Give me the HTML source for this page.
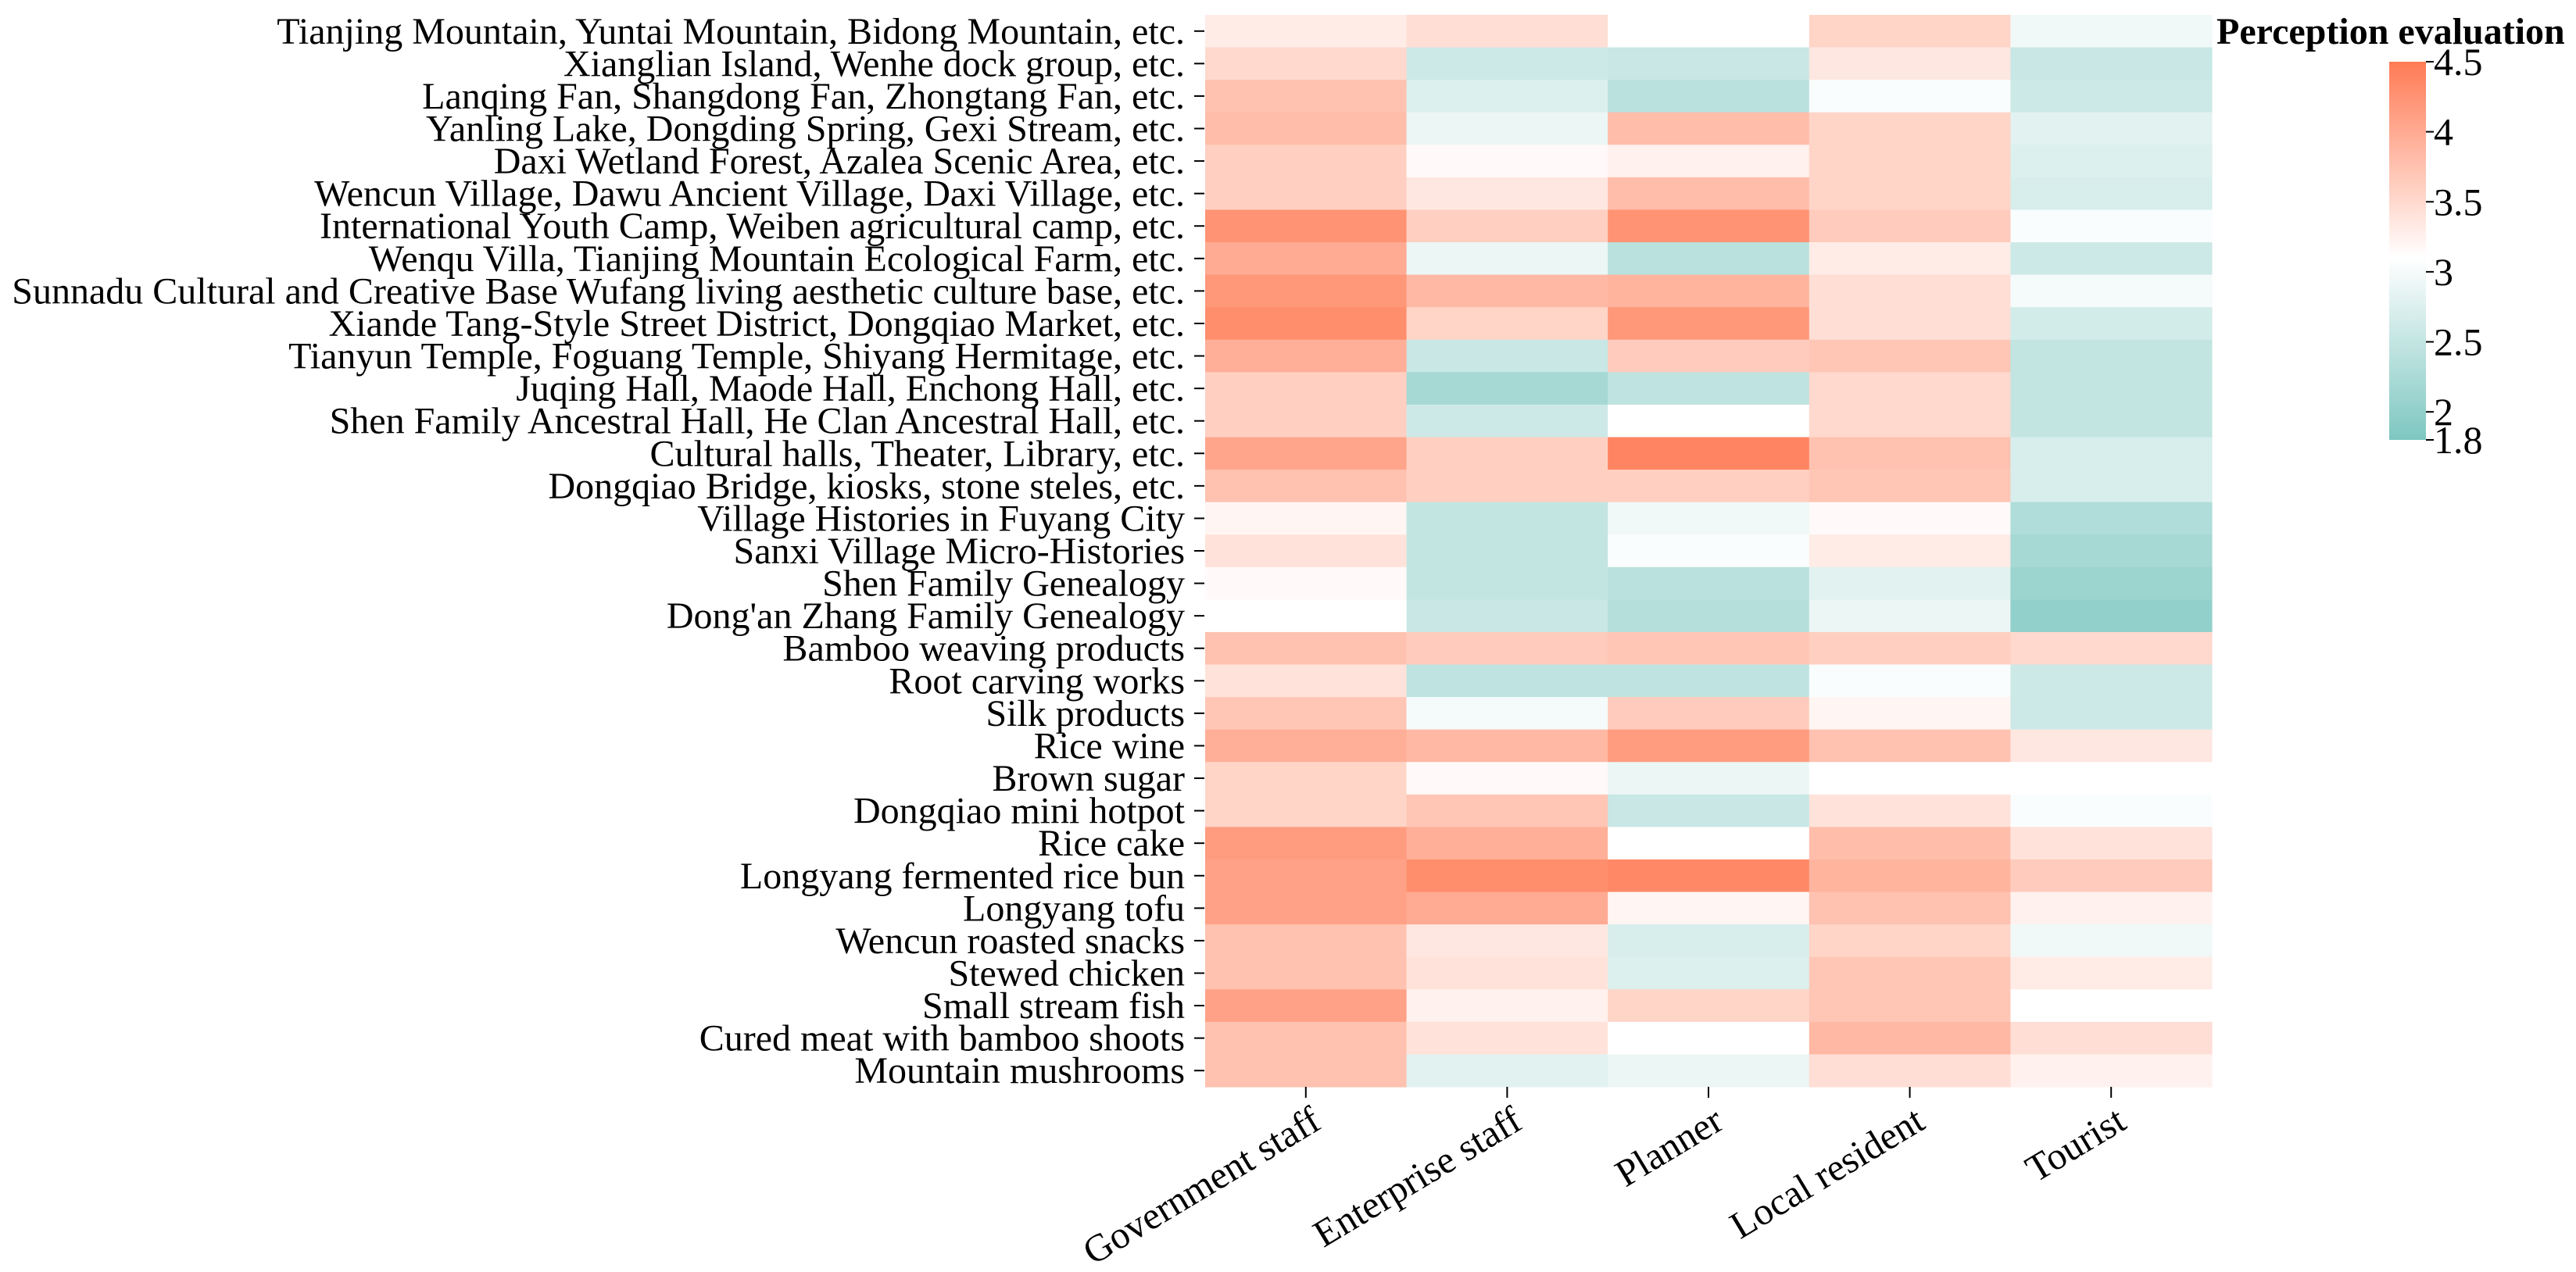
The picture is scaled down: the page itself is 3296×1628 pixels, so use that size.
<!DOCTYPE html>
<html><head><meta charset="utf-8"><style>
html,body{margin:0;padding:0;background:#fff;}
svg{display:block;}
text{font-family:"Liberation Serif",serif;fill:#000;}
</style></head><body>
<svg id="chart" width="3296" height="1628" viewBox="0 0 3296 1628" xmlns="http://www.w3.org/2000/svg">
<defs>
<linearGradient id="cbg" x1="0" y1="1" x2="0" y2="0">
<stop offset="0" stop-color="rgb(126,199,193)"/>
<stop offset="0.4815" stop-color="rgb(255,255,255)"/>
<stop offset="1" stop-color="rgb(255,123,85)"/>
</linearGradient>
</defs>
<g id="cells"></g>
<g id="ylab"></g>
<g id="xlab"></g>
<g id="cbar">
<text x="2836" y="56" font-size="48" font-weight="bold" font-family="Liberation Serif, serif">Perception evaluation</text>
<rect x="3057" y="79" width="47" height="484" fill="url(#cbg)"/>
</g>
</svg>
<script>
const rowLabels = ["Tianjing Mountain, Yuntai Mountain, Bidong Mountain, etc.","Xianglian Island, Wenhe dock group, etc.","Lanqing Fan, Shangdong Fan, Zhongtang Fan, etc.","Yanling Lake, Dongding Spring, Gexi Stream, etc.","Daxi Wetland Forest, Azalea Scenic Area, etc.","Wencun Village, Dawu Ancient Village, Daxi Village, etc.","International Youth Camp, Weiben agricultural camp, etc.","Wenqu Villa, Tianjing Mountain Ecological Farm, etc.","Sunnadu Cultural and Creative Base Wufang living aesthetic culture base, etc.","Xiande Tang-Style Street District, Dongqiao Market, etc.","Tianyun Temple, Foguang Temple, Shiyang Hermitage, etc.","Juqing Hall, Maode Hall, Enchong Hall, etc.","Shen Family Ancestral Hall, He Clan Ancestral Hall, etc.","Cultural halls, Theater, Library, etc.","Dongqiao Bridge, kiosks, stone steles, etc.","Village Histories in Fuyang City","Sanxi Village Micro-Histories","Shen Family Genealogy","Dong'an Zhang Family Genealogy","Bamboo weaving products","Root carving works","Silk products","Rice wine","Brown sugar","Dongqiao mini hotpot","Rice cake","Longyang fermented rice bun","Longyang tofu","Wencun roasted snacks","Stewed chicken","Small stream fish","Cured meat with bamboo shoots","Mountain mushrooms"];
const colLabels = ["Government staff","Enterprise staff","Planner","Local resident","Tourist"];
const govValues = [3.3,3.5,3.75,3.8,3.6,3.6,4.25,4.0,4.2,4.3,3.95,3.6,3.6,4.05,3.75,3.2,3.4,3.15,3.1,3.75,3.4,3.7,3.95,3.55,3.55,4.15,4.1,4.1,3.75,3.75,4.1,3.75,3.75];
const entValues = [3.45,2.6,2.75,2.9,3.15,3.35,3.6,2.9,3.85,3.55,2.55,2.2,2.6,3.6,3.6,2.5,2.5,2.5,2.55,3.65,2.45,3.0,3.85,3.15,3.7,3.95,4.3,4.0,3.35,3.4,3.25,3.4,2.8];
const planValues = [3.1,2.55,2.4,3.8,3.25,3.8,4.25,2.4,3.9,4.2,3.65,2.45,3.1,4.4,3.6,2.95,3.05,2.4,2.35,3.7,2.45,3.65,4.15,2.9,2.55,3.1,4.35,3.2,2.7,2.75,3.55,3.1,2.9];
const localValues = [3.55,3.35,3.05,3.55,3.55,3.55,3.65,3.3,3.45,3.45,3.7,3.5,3.5,3.75,3.7,3.15,3.3,2.8,2.9,3.6,3.05,3.2,3.75,3.1,3.4,3.8,3.9,3.75,3.55,3.7,3.7,3.85,3.45];
const touristValues = [2.95,2.55,2.6,2.8,2.75,2.7,3.05,2.6,3.0,2.65,2.5,2.5,2.5,2.7,2.7,2.3,2.2,2.1,2.0,3.5,2.6,2.6,3.35,3.1,3.05,3.4,3.65,3.25,2.95,3.3,3.1,3.45,3.25];
const cbTicks = [4.5,4,3.5,3,2.5,2,1.8];

const NS = "http://www.w3.org/2000/svg";
const X0 = 1542, X1 = 2830, Y0 = 19, Y1 = 1391;
const VMIN = 1.8, VMAX = 4.5, VMID = 3.1;
const series = [govValues, entValues, planValues, localValues, touristValues];
const cw = (X1 - X0) / colLabels.length, rh = (Y1 - Y0) / rowLabels.length;
function xPos(i){ return X0 + i * cw; }
function yPos(j){ return Y0 + j * rh; }
function cbY(v){ return 79 + (VMAX - v) / (VMAX - VMIN) * 484; }
function color(v){
  let r,g,b;
  if (v >= VMID){ const t = Math.min(1,(v-VMID)/(VMAX-VMID)); r=255; g=255-t*132; b=255-t*170; }
  else { const t = Math.min(1,(VMID-v)/(VMID-VMIN)); r=255-t*129; g=255-t*56; b=255-t*62; }
  return `rgb(${Math.round(r)},${Math.round(g)},${Math.round(b)})`;
}
const cells = document.getElementById('cells');
series.forEach((vals, i) => {
  vals.forEach((v, j) => {
    const r = document.createElementNS(NS,'rect');
    r.setAttribute('x', xPos(i)); r.setAttribute('y', yPos(j));
    r.setAttribute('width', cw + 0.6); r.setAttribute('height', rh + 0.6);
    r.setAttribute('fill', color(v));
    
    
    cells.appendChild(r);
  });
});
const ylab = document.getElementById('ylab');
rowLabels.forEach((lab, j) => {
  const yc = yPos(j) + rh / 2;
  const t = document.createElementNS(NS,'line');
  t.setAttribute('x1', 1528); t.setAttribute('x2', 1541); t.setAttribute('y1', yc); t.setAttribute('y2', yc);
  t.setAttribute('stroke', '#000'); t.setAttribute('stroke-width', 2);
  
  
  ylab.appendChild(t);
  const tx = document.createElementNS(NS,'text');
  tx.setAttribute('x', 1516); tx.setAttribute('y', yc + 16);
  tx.setAttribute('text-anchor', 'end'); tx.setAttribute('font-size', 48);
  tx.textContent = lab;
  
  
  ylab.appendChild(tx);
});
const xlab = document.getElementById('xlab');
colLabels.forEach((lab, i) => {
  const xc = xPos(i) + cw / 2;
  const t = document.createElementNS(NS,'line');
  t.setAttribute('x1', xc); t.setAttribute('x2', xc); t.setAttribute('y1', Y1); t.setAttribute('y2', Y1 + 14);
  t.setAttribute('stroke', '#000'); t.setAttribute('stroke-width', 2);
  
  
  xlab.appendChild(t);
  const tx = document.createElementNS(NS,'text');
  tx.setAttribute('text-anchor', 'end'); tx.setAttribute('font-size', 49);
  tx.setAttribute('transform', `translate(${xc + 22},${Y1 + 52}) rotate(-31)`);
  tx.textContent = lab;
  
  
  xlab.appendChild(tx);
});
const cbar = document.getElementById('cbar');
cbTicks.forEach(v => {
  const y = cbY(v);
  const t = document.createElementNS(NS,'line');
  t.setAttribute('x1', 3104); t.setAttribute('x2', 3114); t.setAttribute('y1', y); t.setAttribute('y2', y);
  t.setAttribute('stroke', '#000'); t.setAttribute('stroke-width', 2);
  
  
  cbar.appendChild(t);
  const tx = document.createElementNS(NS,'text');
  tx.setAttribute('x', 3114); tx.setAttribute('y', y + 17);
  tx.setAttribute('font-size', 50);
  tx.setAttribute('font-family', 'Liberation Serif, serif');
  tx.textContent = String(v);
  
  
  cbar.appendChild(tx);
});
</script>
</body></html>
